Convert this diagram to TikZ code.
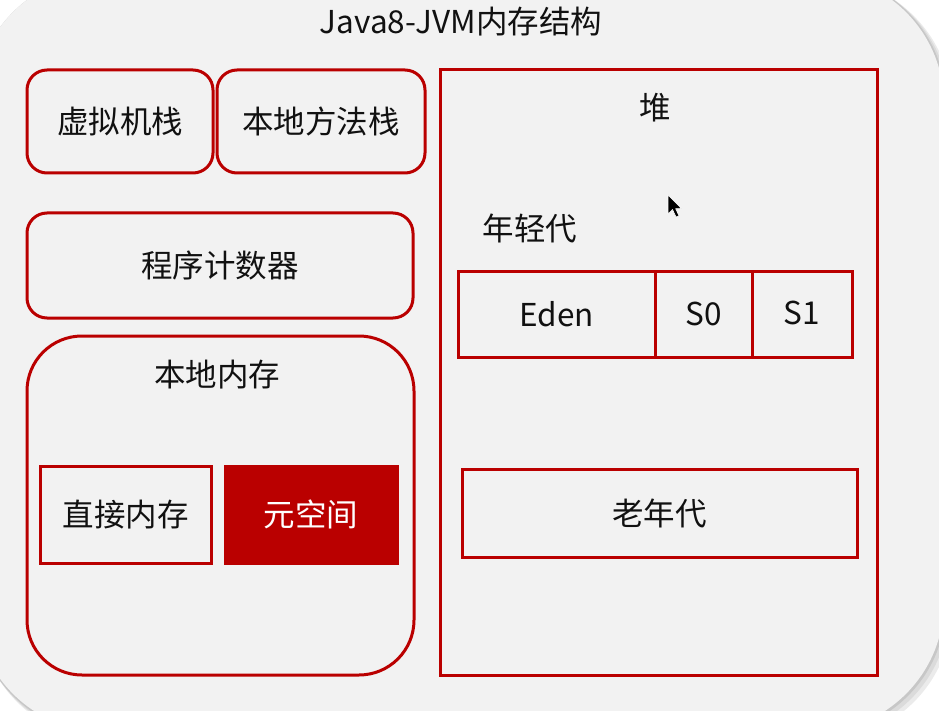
\documentclass[tikz,border=0pt]{standalone}
\usepackage{fontspec}
\setmainfont{Noto Sans CJK SC}
\begin{document}
\begin{tikzpicture}[x=1pt,y=-1pt]
\definecolor{jred}{HTML}{BA0000}
\definecolor{bg}{HTML}{F2F2F2}
\definecolor{ink}{HTML}{111111}
\tikzset{
  box/.style={draw=jred, line width=3pt, fill=bg, inner sep=0pt, text=ink, font=\fontsize{31.5}{38}\selectfont},
  rbox/.style={box, rounded corners=20pt},
  lbl/.style={inner sep=0pt, text=ink, font=\fontsize{31.5}{38}\selectfont},
}
\useasboundingbox (0,0) rectangle (939,711);
\fill[white] (0,0) rectangle (939,711);
% panel shadow
\fill[black!8, rounded corners=130pt] (-21,-22) rectangle (952,740);
\fill[black!14, rounded corners=130pt] (-23,-24) rectangle (949,737);
\fill[black!22, rounded corners=130pt] (-25,-26) rectangle (946,734);
% panel
\fill[bg, rounded corners=130pt] (-25,-26) rectangle (944,732);
% title
\node[lbl] (title) at (461,22) {Java8-JVM内存结构};
% stacks
\node[rbox, minimum width=186pt, minimum height=103pt] (vm) at (120,121.5) {虚拟机栈};
\node[rbox, minimum width=208pt, minimum height=103pt] (nm) at (321,121.5) {本地方法栈};
\node[rbox, minimum width=386pt, minimum height=105pt] (pc) at (220,265.5) {程序计数器};
% native memory
\node[box, rounded corners=55pt, minimum width=387pt, minimum height=339pt] (native) at (220.5,505.5) {};
\node[lbl] (nativelbl) at (217,375) {本地内存};
\node[box, minimum width=171pt, minimum height=97pt] (direct) at (125.5,514.5) {直接内存};
\node[box, fill=jred, text=white, minimum width=172pt, minimum height=97pt] (meta) at (311,514.5) {元空间};
% heap
\node[box, minimum width=437pt, minimum height=605pt] (heap) at (658.5,372.5) {};
\node[lbl] (heaplbl) at (655,108) {堆};
\node[lbl] (young) at (530,228) {年轻代};
\node[box, minimum width=197pt, minimum height=86pt] (eden) at (556.5,314) {Eden};
\node[box, minimum width=97pt, minimum height=86pt] (s0) at (703.5,314) {S0};
\node[box, minimum width=100pt, minimum height=86pt] (s1) at (802,314) {\raisebox{2pt}{S1}};
\node[box, minimum width=395pt, minimum height=88pt] (old) at (659.5,513) {老年代};
% mouse cursor
\draw[fill=black, draw=white, line width=0.6pt, line join=round]
  (668,195) -- (668,214) -- (672.5,209.5) -- (676,217) -- (679,215.8) -- (675.6,208.6) -- (681.5,208.6) -- cycle;
\end{tikzpicture}
\end{document}
